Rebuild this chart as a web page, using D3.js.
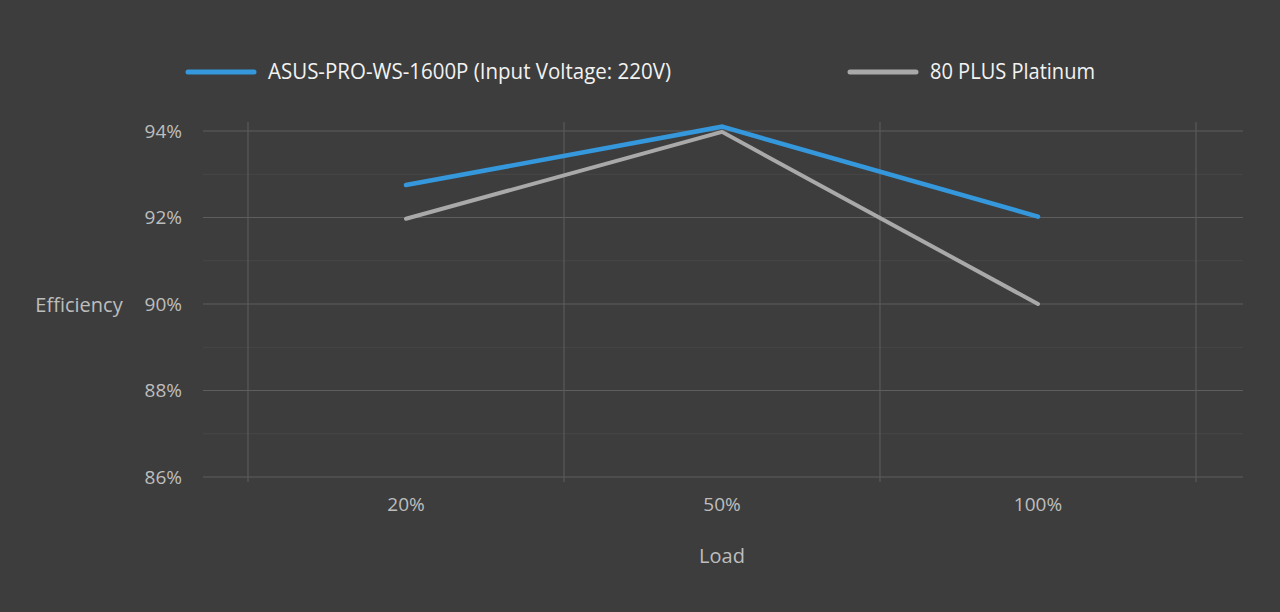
<!DOCTYPE html>
<html lang="en">
<head>
  <meta charset="UTF-8" />
  <title>PSU Efficiency</title>
  <script src="https://d3js.org/d3.v7.min.js"></script>
  <style>
    body { margin: 0; background: #3d3d3d; }
    svg { display: block; font-family: "Open Sans", sans-serif; }
    .tick-label { fill: #bdbdbd; font-size: 19px; }
    .axis-title { fill: #bdbdbd; font-size: 20px; }
    .legend-text { fill: #f2f2f2; font-size: 21px; }
  </style>
</head>
<body>
  <svg id="chart" width="1280" height="612"></svg>
  <script>
    const width = 1280;
    const height = 612;

    // data
    const loads = ["20%", "50%", "100%"];
    const asusValues = [92.75, 94.1, 92.02];
    const platinumValues = [91.97, 93.98, 90.0];
    const seriesNames = ["ASUS-PRO-WS-1600P (Input Voltage: 220V)", "80 PLUS Platinum"];
    const seriesColors = ["#3598dc", "#a9a9a9"];
    const yTicks = [86, 88, 90, 92, 94];
    const yMinor = [87, 89, 91, 93];

    const svg = d3.select("#chart");

    svg.append("rect").attr("width", width).attr("height", height).attr("fill", "#3d3d3d");

    const plotLeft = 203, plotRight = 1243;

    const x = d3.scaleBand()
      .domain(loads)
      .range([248, 1196]);

    const y = d3.scaleLinear()
      .domain([86, 94])
      .range([477, 131]);

    // minor horizontal lines
    svg.append("g")
      .selectAll("line")
      .data(yMinor)
      .enter()
      .append("line")
      .attr("x1", plotLeft)
      .attr("x2", plotRight)
      .attr("y1", d => y(d))
      .attr("y2", d => y(d))
      .attr("stroke", "#474747")
      .attr("stroke-width", 1);

    // major horizontal lines
    svg.append("g")
      .selectAll("line")
      .data(yTicks)
      .enter()
      .append("line")
      .attr("x1", plotLeft)
      .attr("x2", plotRight)
      .attr("y1", d => y(d))
      .attr("y2", d => y(d))
      .attr("stroke", "#5e5e5e")
      .attr("stroke-width", 1.2);

    // vertical band boundaries
    const bounds = loads.map(d => x(d)).concat([x(loads[loads.length - 1]) + x.bandwidth()]);
    svg.append("g")
      .selectAll("line")
      .data(bounds)
      .enter()
      .append("line")
      .attr("x1", d => d)
      .attr("x2", d => d)
      .attr("y1", 122)
      .attr("y2", 482)
      .attr("stroke", "#5a5a5a")
      .attr("stroke-width", 1.2);

    // y tick labels
    svg.append("g")
      .selectAll("text")
      .data(yTicks)
      .enter()
      .append("text")
      .attr("class", "tick-label")
      .attr("x", 182)
      .attr("y", d => y(d))
      .attr("dy", "0.35em")
      .attr("text-anchor", "end")
      .text(d => d + "%");

    // x tick labels
    svg.append("g")
      .selectAll("text")
      .data(loads)
      .enter()
      .append("text")
      .attr("class", "tick-label")
      .attr("x", d => x(d) + x.bandwidth() / 2)
      .attr("y", 504)
      .attr("dy", "0.35em")
      .attr("text-anchor", "middle")
      .text(d => d);

    svg.append("text")
      .attr("class", "axis-title")
      .attr("x", 79)
      .attr("y", 305)
      .attr("dy", "0.35em")
      .attr("text-anchor", "middle")
      .text("Efficiency");

    svg.append("text")
      .attr("class", "axis-title")
      .attr("x", 722)
      .attr("y", 556)
      .attr("dy", "0.35em")
      .attr("text-anchor", "middle")
      .text("Load");

    // lines
    const line = d3.line()
      .x((d, i) => x(loads[i]) + x.bandwidth() / 2)
      .y(d => y(d));

    [platinumValues, asusValues].forEach((vals, k) => {
      const idx = k === 0 ? 1 : 0;
      svg.append("path")
        .datum(vals)
        .attr("d", line)
        .attr("fill", "none")
        .attr("stroke", seriesColors[idx])
        .attr("stroke-width", idx === 0 ? 4.5 : 4)
        .attr("stroke-linecap", "round")
        .attr("stroke-linejoin", "miter");
    });

    // legend
    const legendItems = [
      { x: 188, textX: 268, width: 403 },
      { x: 850, textX: 930, width: 165 }
    ];
    legendItems.forEach((it, i) => {
      svg.append("line")
        .attr("x1", it.x)
        .attr("x2", it.x + 66)
        .attr("y1", 72)
        .attr("y2", 72)
        .attr("stroke", seriesColors[i])
        .attr("stroke-width", 5)
        .attr("stroke-linecap", "round");
      svg.append("text")
        .attr("class", "legend-text")
        .attr("x", it.textX)
        .attr("y", 72)
        .attr("dy", "0.35em")
        .attr("textLength", it.width)
        .attr("lengthAdjust", "spacingAndGlyphs")
        .text(seriesNames[i]);
    });
  </script>
</body>
</html>
